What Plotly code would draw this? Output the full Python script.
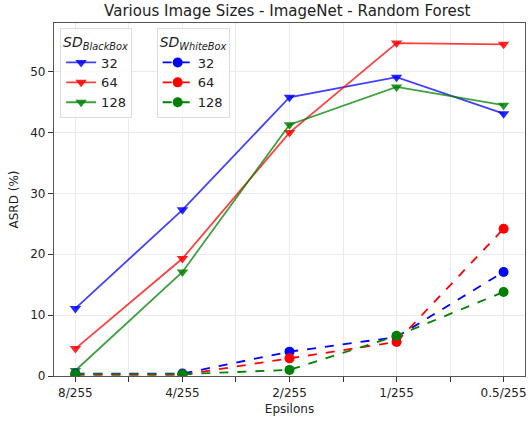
import plotly.graph_objects as go

epsilons = ["8/255", "4/255", "2/255", "1/255", "0.5/255"]
sizes = ["32", "64", "128"]
colors = ["#0000FF", "#FF0000", "#008000"]

blackbox = {
    "32": [11.1, 27.3, 45.8, 49.1, 43.1],
    "64": [4.5, 19.3, 40.0, 54.7, 54.5],
    "128": [0.9, 17.1, 41.3, 47.5, 44.5],
}
whitebox = {
    "32": [0.4, 0.4, 4.0, 6.4, 17.1],
    "64": [0.2, 0.2, 2.9, 5.6, 24.2],
    "128": [0.3, 0.3, 1.0, 6.6, 13.8],
}

xpos = list(range(len(epsilons)))

fig = go.Figure()

def rgba(hexc, a):
    h = hexc.lstrip("#")
    r, g, b = int(h[0:2], 16), int(h[2:4], 16), int(h[4:6], 16)
    return f"rgba({r},{g},{b},{a})"

for s, c in zip(sizes, colors):
    fig.add_trace(go.Scatter(
        x=xpos, y=blackbox[s], name=s, mode="lines+markers",
        line=dict(color=rgba(c, 0.75), width=1.8),
        marker=dict(symbol="triangle-down", size=10, color=rgba(c, 0.85)),
        legend="legend",
    ))
for s, c in zip(sizes, colors):
    fig.add_trace(go.Scatter(
        x=xpos, y=whitebox[s], name=s, mode="lines+markers",
        line=dict(color=c, width=1.8, dash="dash"),
        marker=dict(symbol="circle", size=10, color=c),
        legend="legend2",
    ))

font = "DejaVu Sans"
legend_common = dict(
    bgcolor="rgba(255,255,255,0.8)", bordercolor="#dddddd", borderwidth=1,
    font=dict(family=font, size=13, color="#222"),
    itemwidth=30, tracegroupgap=0, yanchor="top", xanchor="left",
)

fig.update_layout(
    width=532, height=423,
    margin=dict(l=54, r=5, t=23, b=47),
    paper_bgcolor="white", plot_bgcolor="white",
    font=dict(family=font, size=12, color="#222"),
    title=dict(text="Various Image Sizes - ImageNet - Random Forest",
               x=0.54, xanchor="center", y=0.988, yanchor="top",
               font=dict(family=font, size=15, color="#222")),
    legend=dict(title=dict(text="<i>SD</i><sub><i>BlackBox</i></sub>",
                           font=dict(family=font, size=14), side="top"),
                x=0.013, y=0.985, **legend_common),
    legend2=dict(title=dict(text="<i>SD</i><sub><i>WhiteBox</i></sub>",
                            font=dict(family=font, size=14), side="top"),
                 x=0.218, y=0.985, **legend_common),
    showlegend=True,
)

fig.update_xaxes(
    range=[-0.2, 4.2], tickmode="array", tickvals=xpos, ticktext=epsilons,
    ticks="outside", ticklen=5, tickcolor="#333", tickfont=dict(size=12),
    showline=True, linecolor="#555", linewidth=1.3, mirror=True,
    showgrid=True, gridcolor="#ebebeb", gridwidth=1, zeroline=False,
    minor=dict(tickvals=[0.5, 1.5, 2.5, 3.5], ticks="outside", ticklen=5,
               tickcolor="#333", showgrid=True, gridcolor="#ebebeb"),
    title=dict(text="Epsilons", font=dict(size=12), standoff=6),
)
fig.update_yaxes(
    range=[0, 58], tickmode="array", tickvals=[0, 10, 20, 30, 40, 50],
    ticks="outside", ticklen=5, tickcolor="#333", tickfont=dict(size=12),
    showline=True, linecolor="#555", linewidth=1.3, mirror=True,
    showgrid=True, gridcolor="#ebebeb", gridwidth=1, zeroline=False,
    title=dict(text="ASRD (%)", font=dict(size=12), standoff=8),
)

fig.write_html("out.html",
               config={"displayModeBar": False},
               post_script="document.body.style.margin='0';document.body.style.overflow='hidden';")
